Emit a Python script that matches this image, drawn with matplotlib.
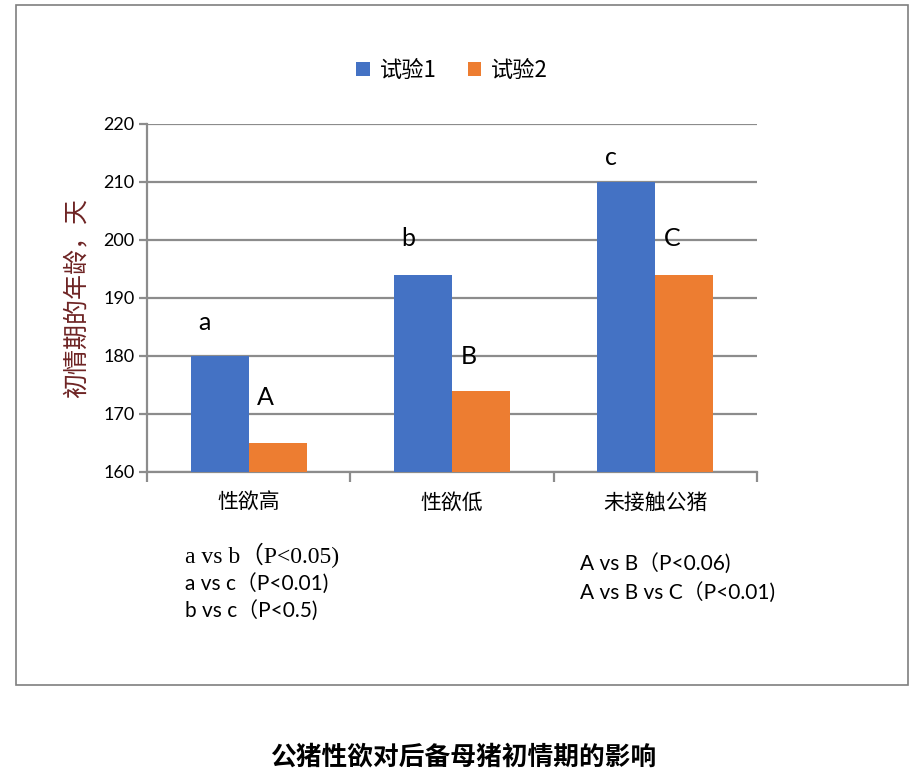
import numpy as np
import matplotlib
matplotlib.use("Agg")
from matplotlib import pyplot as plt
from matplotlib.patches import Rectangle

plt.rcParams['font.family'] = ['Lato', 'Noto Sans CJK SC', 'DejaVu Sans']

# data
categories = ['性欲高', '性欲低', '未接触公猪']
series_names = ['试验1', '试验2']
trial1 = [180, 194, 210]
trial2 = [165, 174, 194]
letters1 = ['a', 'b', 'c']
letters2 = ['A', 'B', 'C']
letter1_y = [185.7, 200.3, 214.3]
letter2_y = [172.8, 180.0, 200.3]
yticks = [160, 170, 180, 190, 200, 210, 220]
notes_left = ['a vs b（P<0.05)', 'a vs c（P<0.01)', 'b vs c（P<0.5)']
notes_right = ['A vs B（P<0.06)', 'A vs B vs C（P<0.01)']
title = '公猪性欲对后备母猪初情期的影响'

blue = '#4472c4'
orange = '#ed7d31'
grid_col = '#8c8c8c'

fig = plt.figure(figsize=(9.2, 7.83), dpi=100)

# outer chart frame
fig.patches.append(Rectangle((16 / 920, 1 - 685 / 783), 892 / 920, 680 / 783,
                             transform=fig.transFigure, fill=False,
                             edgecolor='#7f7f7f', linewidth=1.2))

ax = fig.add_axes([147 / 920, 1 - 472 / 783, 610 / 920, 348 / 783])

x = np.arange(len(categories))
w = 0.285
ax.bar(x - w / 2, trial1, w, color=blue, label=series_names[0], zorder=3)
ax.bar(x + w / 2, trial2, w, color=orange, label=series_names[1], zorder=3)

ax.set_ylim(160, 220)
ax.set_xlim(-0.5, len(categories) - 0.5)
ax.set_yticks(yticks)
ax.set_yticklabels([str(t) for t in yticks], fontsize=13)
ax.yaxis.grid(True, color=grid_col, linewidth=1.6, zorder=0)
ax.set_axisbelow(True)

# category boundaries as ticks, names as minor labels
ax.set_xticks(np.arange(-0.5, len(categories), 1.0))
ax.set_xticklabels([])
ax.set_xticks(x, minor=True)
ax.set_xticklabels(categories, minor=True, fontsize=15,
                   family=['Noto Sans CJK SC', 'DejaVu Sans'])
ax.tick_params(axis='x', which='major', length=7, width=1.6, color=grid_col, direction='out')
ax.tick_params(axis='x', which='minor', length=0, pad=14)
ax.tick_params(axis='y', length=6, width=1.6, color=grid_col, pad=3)

for s in ['top', 'right']:
    ax.spines[s].set_visible(False)
for s in ['left', 'bottom']:
    ax.spines[s].set_color(grid_col)
    ax.spines[s].set_linewidth(1.6)

ax.set_ylabel('初情期的年龄，天', fontsize=18, color='#6e2424',
              family=['Noto Sans CJK SC', 'DejaVu Sans'], labelpad=10)

for i in range(len(categories)):
    ax.annotate(letters1[i], (x[i] - w / 2, letter1_y[i]), xytext=(-15, 0),
                textcoords='offset pixels', ha='center', va='center', fontsize=18)
    ax.annotate(letters2[i], (x[i] + w / 2, letter2_y[i]), xytext=(-12, 0),
                textcoords='offset pixels', ha='center', va='center', fontsize=18)

fig.legend(loc='center', bbox_to_anchor=(452 / 920, 1 - 70 / 783), ncol=2,
           frameon=False, handlelength=0.6, handleheight=0.6,
           handletextpad=0.45, columnspacing=1.4,
           prop={'family': ['Noto Sans CJK SC', 'DejaVu Sans'], 'size': 16})

# notes under the chart
fig.text(185 / 920, 1 - 555 / 783, notes_left[0], fontsize=17, va='center',
         family=['Liberation Serif', 'Noto Sans CJK SC'])
for k, line in enumerate(notes_left[1:]):
    fig.text(185 / 920, 1 - (583 + 27 * k) / 783, line, fontsize=15, va='center',
             family=['Lato', 'Noto Sans CJK SC'])
for k, line in enumerate(notes_right):
    fig.text(580 / 920, 1 - (563 + 29 * k) / 783, line, fontsize=15, va='center',
             family=['Lato', 'Noto Sans CJK SC'])

fig.text(463 / 920, 1 - 757 / 783, title, fontsize=18.5, fontweight='bold',
         ha='center', va='center', family=['Noto Sans CJK SC', 'DejaVu Sans'])

fig.savefig('out.png', dpi=100)
